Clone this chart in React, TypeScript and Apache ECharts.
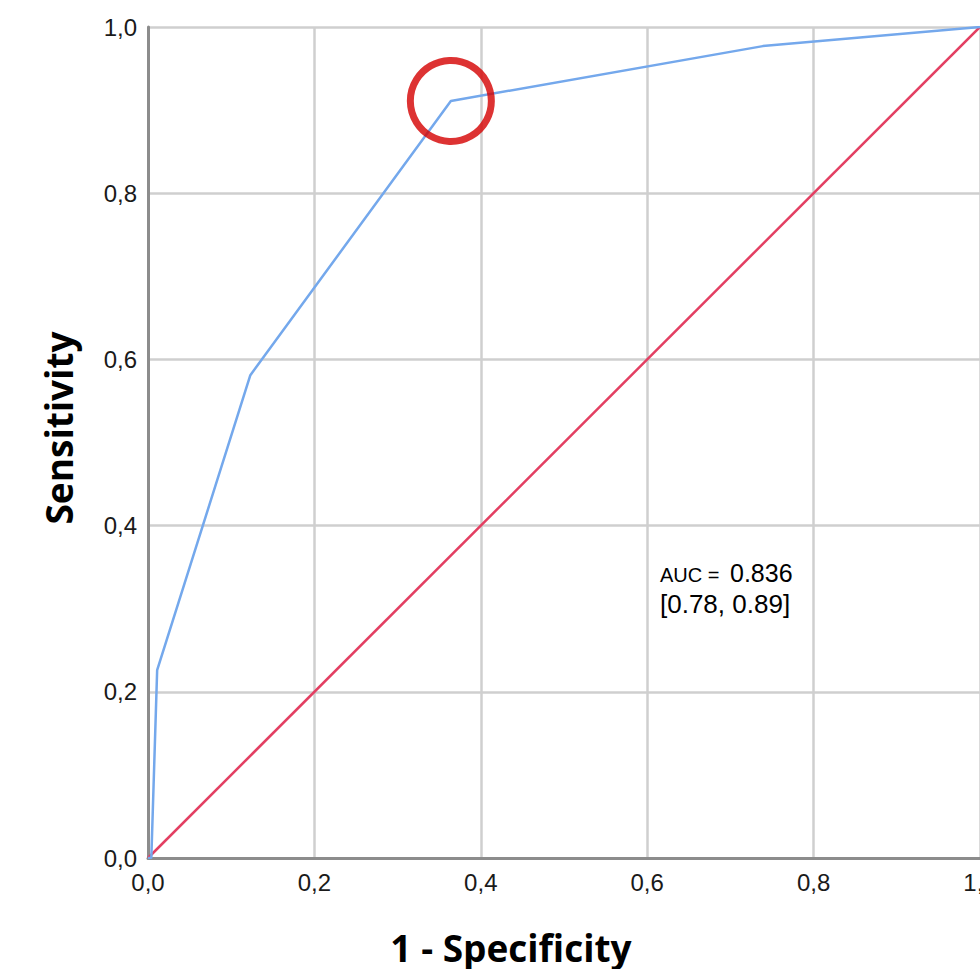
import React, { useEffect, useRef } from "react";
import * as echarts from "echarts";

// ROC curve (1 - specificity, sensitivity)
const rocFpr = [0, 0.004, 0.011, 0.123, 0.364, 0.739, 1];
const rocTpr = [0, 0, 0.226, 0.581, 0.911, 0.977, 1];
// reference diagonal
const refX = [0, 1];
const refY = [0, 1];
// highlighted cut-off point
const cutX = [0.364];
const cutY = [0.911];
// axis ticks
const tickMin = 0;
const tickMax = 1;
const tickStep = 0.2;
const xTitle = "1 - Specificity";
const yTitle = "Sensitivity";
const aucLabel = "AUC = ";
const aucValue = "0.836";
const aucCI = "[0.78, 0.89]";

const fmt = (v: number) => v.toFixed(1).replace(".", ",");

export default function App() {
  const ref = useRef<HTMLDivElement>(null);
  useEffect(() => {
    if (!ref.current) return;
    const chart = echarts.init(ref.current, null, { renderer: "svg" });
    const axisLabel = {
      fontFamily: "Liberation Sans",
      fontSize: 24,
      color: "#1a1a1a",
      formatter: fmt,
    };
    const common = {
      type: "value" as const,
      min: tickMin,
      max: tickMax,
      interval: tickStep,
      axisTick: { show: false },
      splitLine: { show: true, lineStyle: { color: "#cfcfcf", width: 2.5 } },
      axisLine: { show: true, lineStyle: { color: "#8c8c8c", width: 3 } },
    };
    chart.setOption({
      animation: false,
      backgroundColor: "#fff",
      grid: {
        left: 148,
        top: 27,
        right: 30,
        bottom: 111,
        containLabel: false,
        outerBoundsMode: "none",
      },
      xAxis: { ...common, axisLabel: { ...axisLabel, margin: 12 } },
      yAxis: { ...common, axisLabel: { ...axisLabel, margin: 11 } },
      series: [
        {
          type: "line",
          data: refX.map((x, i) => [x, refY[i]]),
          showSymbol: false,
          lineStyle: { color: "#e33f62", width: 2.5 },
          z: 3,
        },
        {
          type: "line",
          data: rocFpr.map((x, i) => [x, rocTpr[i]]),
          showSymbol: false,
          lineStyle: { color: "#74a8ec", width: 2.5 },
          z: 4,
        },
        {
          type: "scatter",
          data: cutX.map((x, i) => [x, cutY[i]]),
          symbol: "circle",
          symbolSize: 81,
          itemStyle: {
            color: "rgba(0,0,0,0)",
            borderColor: "#d40000",
            borderWidth: 7,
          },
          z: 5,
        },
      ],
      graphic: [
        {
          type: "text",
          x: 511,
          y: 947,
          style: {
            text: xTitle,
            fontFamily: "Open Sans",
            fontWeight: "bold",
            fontSize: 37,
            fill: "#000",
            align: "center",
            verticalAlign: "middle",
          },
        },
        {
          type: "text",
          x: 58,
          y: 428,
          rotation: Math.PI / 2,
          style: {
            text: yTitle,
            fontFamily: "Open Sans",
            fontWeight: "bold",
            fontSize: 37,
            fill: "#000",
            align: "center",
            verticalAlign: "middle",
          },
        },
        {
          type: "text",
          x: 660,
          y: 575,
          style: {
            text: aucLabel,
            fontFamily: "Liberation Sans",
            fontSize: 20,
            fill: "#000",
            align: "left",
            verticalAlign: "middle",
          },
        },
        {
          type: "text",
          x: 730,
          y: 573,
          style: {
            text: aucValue,
            fontFamily: "Liberation Sans",
            fontSize: 25,
            fill: "#000",
            align: "left",
            verticalAlign: "middle",
          },
        },
        {
          type: "text",
          x: 660,
          y: 604,
          style: {
            text: aucCI,
            fontFamily: "Liberation Sans",
            fontSize: 26,
            fill: "#000",
            align: "left",
            verticalAlign: "middle",
          },
        },
      ],
    });
    return () => chart.dispose();
  }, []);
  return (
    <div
      style={{
        position: "absolute",
        left: 0,
        top: 0,
        width: 980,
        height: 969,
        overflow: "hidden",
        background: "#fff",
      }}
    >
      <div ref={ref} style={{ width: 1010, height: 969 }} />
    </div>
  );
}
